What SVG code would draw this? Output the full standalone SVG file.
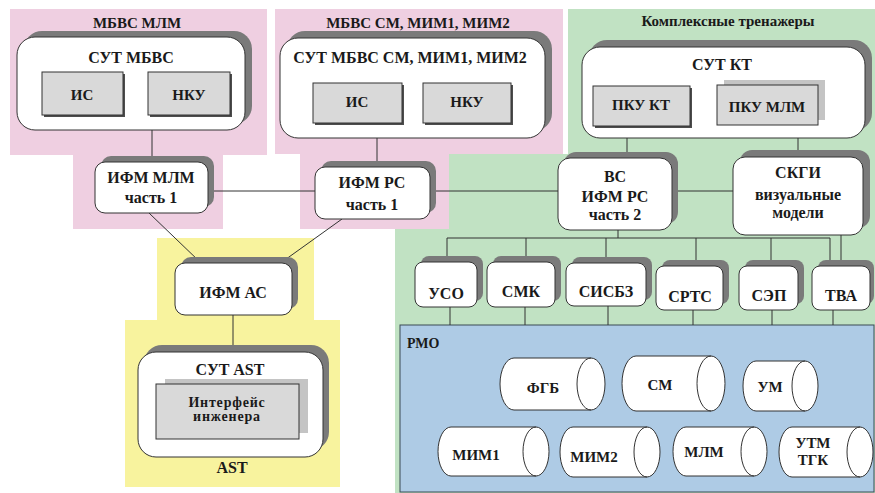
<svg xmlns="http://www.w3.org/2000/svg" width="875" height="493" viewBox="0 0 875 493" font-family="'Liberation Serif', 'Times New Roman', Times, serif">
  <style>
    text { font-family: 'Liberation Serif', 'Times New Roman', Times, serif; }
    .t { font-weight: bold; fill: #1a1a1a; text-anchor: middle; }
    .s16 { font-size: 16px; }
    .s15 { font-size: 15px; }
    .s14 { font-size: 14px; }
    .box { fill: #ffffff; stroke: #333333; stroke-width: 1; }
    .shd { fill: #7a7a7a; }
    .lshd { fill: #c4c4c4; }
    .gbox { fill: #d9d9d9; stroke: #333333; stroke-width: 1; }
    .gshd { fill: #4d4d4d; }
    .cyl { fill: #ffffff; stroke: #333333; stroke-width: 1; }
    .ln { stroke: #333333; stroke-width: 1; fill: none; }
  </style>

  <rect width="875" height="493" fill="#ffffff"/>

  <!-- background zones -->
  <g id="zones">
    <polygon points="568,9 875,9 875,493 395,493 395,154 568,154" fill="#c1e2c3"/>
    <polygon points="10,9 267,9 267,155 223,155 223,229 73,229 73,155 10,155" fill="#efcfe1"/>
    <polygon points="275,9 563,9 563,154 449,154 449,229 300,229 300,154 275,154" fill="#efcfe1"/>
    <polygon points="157,238 314,238 314,320 340,320 340,487 125,487 125,320 157,320" fill="#f8f39e"/>
    <rect x="400" y="325" width="474" height="167" fill="#aecbe5" stroke="#3a4a55" stroke-width="1"/>
  </g>

  <!-- zone captions -->
  <g id="captions">
    <text class="t s15" x="137" y="28">МБВС МЛМ</text>
    <text class="t s15" x="418" y="28">МБВС СМ, МИМ1, МИМ2</text>
    <text class="t s15" x="728" y="26">Комплексные тренажеры</text>
    <text class="t s16" x="232" y="473">AST</text>
    <text class="t s14" x="407" y="348" style="text-anchor:start">РМО</text>
  </g>

  <!-- connectors -->
  <g id="connectors">
    <line class="ln" x1="152" y1="130" x2="152" y2="162"/>
    <line class="ln" x1="377" y1="138" x2="377" y2="167"/>
    <line class="ln" x1="627" y1="138" x2="627" y2="158"/>
    <line class="ln" x1="798" y1="138" x2="798" y2="157"/>
    <line class="ln" x1="208" y1="191" x2="315" y2="191"/>
    <line class="ln" x1="430" y1="191" x2="558" y2="191"/>
    <line class="ln" x1="672" y1="191" x2="733" y2="191"/>
    <line class="ln" x1="149" y1="213" x2="200" y2="262"/>
    <line class="ln" x1="342" y1="219" x2="282" y2="262"/>
    <line class="ln" x1="233" y1="315" x2="233" y2="352"/>
    <line class="ln" x1="618" y1="230" x2="618" y2="238"/>
    <line class="ln" x1="447" y1="238" x2="830" y2="238"/>
    <line class="ln" x1="447" y1="238" x2="447" y2="262"/>
    <line class="ln" x1="526" y1="238" x2="526" y2="262"/>
    <line class="ln" x1="606" y1="238" x2="606" y2="263"/>
    <line class="ln" x1="696" y1="238" x2="696" y2="266"/>
    <line class="ln" x1="771" y1="238" x2="771" y2="266"/>
    <line class="ln" x1="830" y1="238" x2="830" y2="266"/>
    <line class="ln" x1="841" y1="235" x2="841" y2="266"/>
    <line class="ln" x1="450" y1="307" x2="450" y2="325"/>
    <line class="ln" x1="525" y1="307" x2="525" y2="325"/>
    <line class="ln" x1="608" y1="306" x2="608" y2="325"/>
    <line class="ln" x1="693" y1="310" x2="693" y2="325"/>
    <line class="ln" x1="772" y1="310" x2="772" y2="325"/>
    <line class="ln" x1="833" y1="310" x2="833" y2="325"/>
  </g>

  <!-- СУТ МБВС -->
  <g id="sut-mbvs">
    <rect class="shd" x="24" y="31" width="228" height="93" rx="18"/>
    <rect class="box" x="17" y="37" width="228" height="93" rx="18"/>
    <text class="t s16" x="131" y="63">СУТ МБВС</text>
    <rect class="gshd" x="44" y="74" width="81" height="43"/>
    <rect class="gbox" x="42" y="72" width="81" height="43"/>
    <text class="t s15" x="82" y="100">ИС</text>
    <rect class="gshd" x="150" y="74" width="82" height="43"/>
    <rect class="gbox" x="148" y="72" width="82" height="43"/>
    <text class="t s15" x="189" y="100">НКУ</text>
  </g>

  <!-- СУТ МБВС СМ, МИМ1, МИМ2 -->
  <g id="sut-mbvs-sm">
    <rect class="shd" x="287" y="31" width="265" height="100" rx="18"/>
    <rect class="box" x="280" y="38" width="265" height="100" rx="18"/>
    <text class="t s16" x="410" y="63">СУТ МБВС СМ, МИМ1, МИМ2</text>
    <rect class="gshd" x="315" y="85" width="89" height="40"/>
    <rect class="gbox" x="313" y="83" width="89" height="40"/>
    <text class="t s15" x="357" y="107">ИС</text>
    <rect class="gshd" x="425" y="85" width="88" height="40"/>
    <rect class="gbox" x="423" y="83" width="88" height="40"/>
    <text class="t s15" x="467" y="107">НКУ</text>
  </g>

  <!-- СУТ КТ -->
  <g id="sut-kt">
    <rect class="shd" x="589" y="40" width="283" height="91" rx="18"/>
    <rect class="box" x="582" y="47" width="283" height="91" rx="18"/>
    <text class="t s16" x="722" y="70">СУТ КТ</text>
    <rect class="gshd" x="595" y="88" width="97" height="40"/>
    <rect class="gbox" x="593" y="86" width="97" height="40"/>
    <text class="t s15" x="641" y="110">ПКУ КТ</text>
    <rect class="lshd" x="724" y="80" width="101" height="40"/>
    <rect class="gbox" x="717" y="85" width="101" height="40"/>
    <text class="t s15" x="767" y="112">ПКУ МЛМ</text>
  </g>

  <!-- ИФМ МЛМ часть 1 -->
  <g id="ifm-mlm">
    <rect class="shd" x="101" y="156" width="113" height="51" rx="10"/>
    <rect class="box" x="95" y="162" width="113" height="51" rx="10"/>
    <text class="t s16" x="151" y="183">ИФМ МЛМ</text>
    <text class="t s16" x="151" y="203">часть 1</text>
  </g>

  <!-- ИФМ РС часть 1 -->
  <g id="ifm-rs-1">
    <rect class="shd" x="321" y="161" width="115" height="52" rx="10"/>
    <rect class="box" x="315" y="167" width="115" height="52" rx="10"/>
    <text class="t s16" x="372" y="188">ИФМ РС</text>
    <text class="t s16" x="372" y="210">часть 1</text>
  </g>

  <!-- ВС ИФМ РС часть 2 -->
  <g id="vs-ifm-rs-2">
    <rect class="shd" x="564" y="152" width="114" height="72" rx="12"/>
    <rect class="box" x="558" y="158" width="114" height="72" rx="12"/>
    <text class="t s16" x="615" y="182">ВС</text>
    <text class="t s16" x="615" y="202">ИФМ РС</text>
    <text class="t s16" x="615" y="220">часть 2</text>
  </g>

  <!-- СКГИ визуальные модели -->
  <g id="skgi">
    <rect class="shd" x="740" y="150" width="130" height="78" rx="12"/>
    <rect class="box" x="733" y="157" width="130" height="78" rx="12"/>
    <text class="t s16" x="798" y="178">СКГИ</text>
    <text class="t s16" x="798" y="200">визуальные</text>
    <text class="t s16" x="798" y="218">модели</text>
  </g>

  <!-- ИФМ АС -->
  <g id="ifm-as">
    <rect class="shd" x="181" y="257" width="117" height="52" rx="10"/>
    <rect class="box" x="175" y="263" width="117" height="52" rx="10"/>
    <text class="t s16" x="233" y="298">ИФМ АС</text>
  </g>

  <!-- СУТ AST -->
  <g id="sut-ast">
    <rect class="shd" x="144" y="345" width="185" height="105" rx="18"/>
    <rect class="box" x="138" y="352" width="185" height="105" rx="18"/>
    <text class="t s16" x="230" y="375">СУТ AST</text>
    <rect class="lshd" x="165" y="379" width="143" height="54"/>
    <rect class="gbox" x="156" y="384" width="143" height="55"/>
    <text class="t s14" x="227" y="407" style="letter-spacing:0.8px">Интерфейс</text>
    <text class="t s14" x="227" y="421" style="letter-spacing:0.8px">инженера</text>
  </g>

  <!-- subsystem row -->
  <g id="uso">
    <rect class="shd" x="421" y="256" width="62" height="45" rx="8"/>
    <rect class="box" x="415" y="262" width="62" height="45" rx="8"/>
    <text class="t s16" x="446" y="299">УСО</text>
  </g>
  <g id="smk">
    <rect class="shd" x="493" y="256" width="68" height="45" rx="8"/>
    <rect class="box" x="487" y="262" width="68" height="45" rx="8"/>
    <text class="t s16" x="521" y="297">СМК</text>
  </g>
  <g id="sisbz">
    <rect class="shd" x="572" y="257" width="80" height="43" rx="8"/>
    <rect class="box" x="566" y="263" width="80" height="43" rx="8"/>
    <text class="t s16" x="606" y="297">СИСБЗ</text>
  </g>
  <g id="srts">
    <rect class="shd" x="662" y="260" width="67" height="44" rx="8"/>
    <rect class="box" x="656" y="266" width="67" height="44" rx="8"/>
    <text class="t s16" x="690" y="302">СРТС</text>
  </g>
  <g id="sep">
    <rect class="shd" x="745" y="260" width="59" height="44" rx="8"/>
    <rect class="box" x="739" y="266" width="59" height="44" rx="8"/>
    <text class="t s16" x="769" y="301">СЭП</text>
  </g>
  <g id="tva">
    <rect class="shd" x="818" y="260" width="56" height="44" rx="8"/>
    <rect class="box" x="812" y="266" width="58" height="44" rx="8"/>
    <text class="t s16" x="841" y="301">ТВА</text>
  </g>

  <!-- РМО storage cylinders -->
  <g id="fgb">
    <path class="cyl" d="M514,358 H591 A14,26 0 0 1 591,410 H514 A14,26 0 0 1 514,358 Z"/>
    <path class="ln" d="M591,358 A14,26 0 0 0 591,410"/>
    <text class="t s15" x="543" y="393">ФГБ</text>
  </g>
  <g id="sm">
    <path class="cyl" d="M636,356 H711 A14,27.5 0 0 1 711,411 H636 A14,27.5 0 0 1 636,356 Z"/>
    <path class="ln" d="M711,356 A14,27.5 0 0 0 711,411"/>
    <text class="t s15" x="660" y="390">СМ</text>
  </g>
  <g id="um">
    <path class="cyl" d="M756,361 H805 A13,25 0 0 1 805,411 H756 A13,25 0 0 1 756,361 Z"/>
    <path class="ln" d="M805,361 A13,25 0 0 0 805,411"/>
    <text class="t s15" x="770" y="392">УМ</text>
  </g>
  <g id="mim1">
    <path class="cyl" d="M451,427 H536 A13,24.5 0 0 1 536,476 H451 A13,24.5 0 0 1 451,427 Z"/>
    <path class="ln" d="M536,427 A13,24.5 0 0 0 536,476"/>
    <text class="t s15" x="476" y="460">МИМ1</text>
  </g>
  <g id="mim2">
    <path class="cyl" d="M573,427 H647 A13,25 0 0 1 647,477 H573 A13,25 0 0 1 573,427 Z"/>
    <path class="ln" d="M647,427 A13,25 0 0 0 647,477"/>
    <text class="t s15" x="594" y="462">МИМ2</text>
  </g>
  <g id="mlm">
    <path class="cyl" d="M686,427 H754 A13,24.5 0 0 1 754,476 H686 A13,24.5 0 0 1 686,427 Z"/>
    <path class="ln" d="M754,427 A13,24.5 0 0 0 754,476"/>
    <text class="t s15" x="704" y="457">МЛМ</text>
  </g>
  <g id="utm-tgk">
    <path class="cyl" d="M792,427 H860 A13,25 0 0 1 860,477 H792 A13,25 0 0 1 792,427 Z"/>
    <path class="ln" d="M860,427 A13,25 0 0 0 860,477"/>
    <text class="t s15" x="813" y="448">УТМ</text>
    <text class="t s15" x="813" y="465">ТГК</text>
  </g>
</svg>
